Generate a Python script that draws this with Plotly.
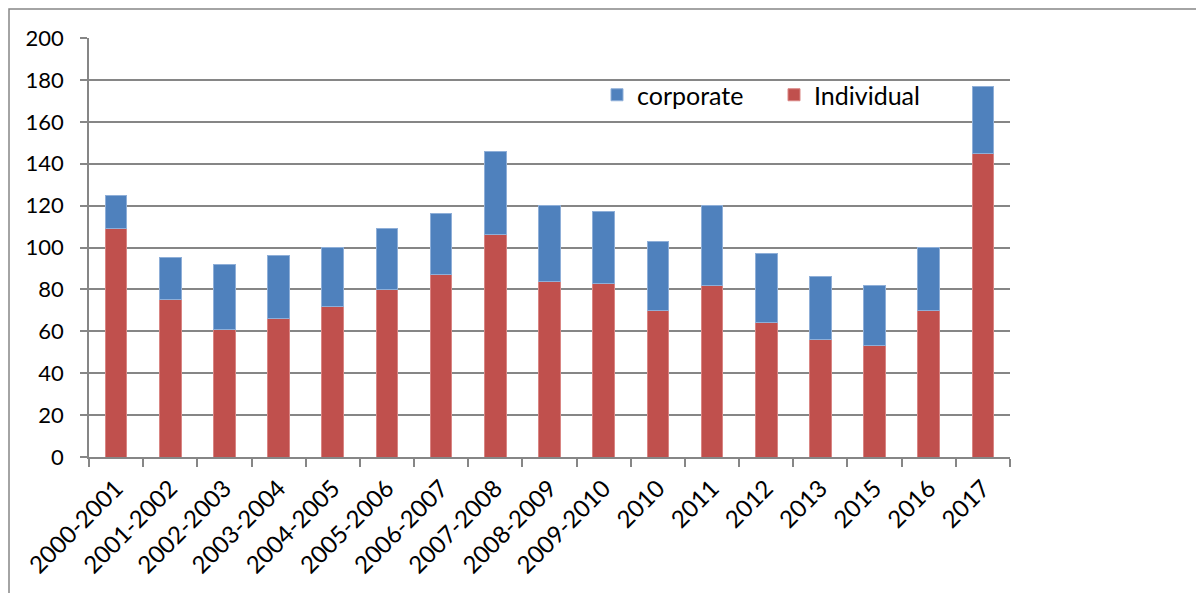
import plotly.graph_objects as go

categories = ["2000-2001", "2001-2002", "2002-2003", "2003-2004", "2004-2005",
              "2005-2006", "2006-2007", "2007-2008", "2008-2009", "2009-2010",
              "2010", "2011", "2012", "2013", "2015", "2016", "2017"]
individual = [109, 75, 61, 66, 72, 80, 87, 106, 84, 83, 70, 82, 64, 56, 53, 70, 145]
corporate = [16, 20, 31, 30, 28, 29, 29, 40, 36, 34, 33, 38, 33, 30, 29, 30, 32]
y_ticks = [0, 20, 40, 60, 80, 100, 120, 140, 160, 180, 200]

BLUE = "#4F81BD"
RED = "#C0504D"
GRID = "#868686"
FONT = "Lato"

# page has an 8px body margin; figure origin sits at page (8, 8)
W, H = 1204, 593
ML, MT = 81, 30
pw, ph = 921, 419
MR = W - ML - pw
MB = H - MT - ph

fig = go.Figure()
fig.add_trace(go.Bar(x=categories, y=individual, name="Individual",
                     marker=dict(color=RED, line=dict(color="#D98583", width=1))))
fig.add_trace(go.Bar(x=categories, y=corporate, name="corporate",
                     marker=dict(color=BLUE, line=dict(color="#8FAFD8", width=1))))

# outer chart border (extends beyond the visible area at right/bottom)
fig.add_shape(type="rect", xref="paper", yref="paper",
              x0=(1 - ML) / pw, x1=(1300 - ML) / pw,
              y0=(MT + ph - 700) / ph, y1=(MT + ph - 1) / ph,
              line=dict(color=GRID, width=1.5), layer="below")

fig.update_layout(
    width=W, height=H,
    barmode="stack", bargap=0.6,
    plot_bgcolor="white", paper_bgcolor="white",
    margin=dict(l=ML, r=MR, t=MT, b=MB, pad=0),
    font=dict(family=FONT, size=22, color="black"),
    legend=dict(orientation="h", traceorder="reversed",
                x=(589 - ML) / pw, y=(ph - (95 - 8 - MT)) / ph,
                xanchor="left", yanchor="middle",
                entrywidth=132, font=dict(size=25, family=FONT),
                bgcolor="rgba(0,0,0,0)"),
    xaxis=dict(type="category", showline=True, linecolor=GRID, linewidth=1.5,
               ticks="outside", tickson="boundaries", ticklen=8, tickcolor=GRID,
               tickwidth=1.5, tickangle=-45, tickfont=dict(size=24, family=FONT),
               showgrid=False, ticklabelstandoff=6),
    yaxis=dict(range=[0, 200], tickvals=y_ticks, showline=True, linecolor=GRID,
               linewidth=1.5, ticks="outside", ticklen=7, tickcolor=GRID, tickwidth=1.5,
               showgrid=True, gridcolor=GRID, gridwidth=1.5, zeroline=False,
               tickfont=dict(size=22, family=FONT), ticklabelstandoff=12),
)

fig.write_html("out.html")
